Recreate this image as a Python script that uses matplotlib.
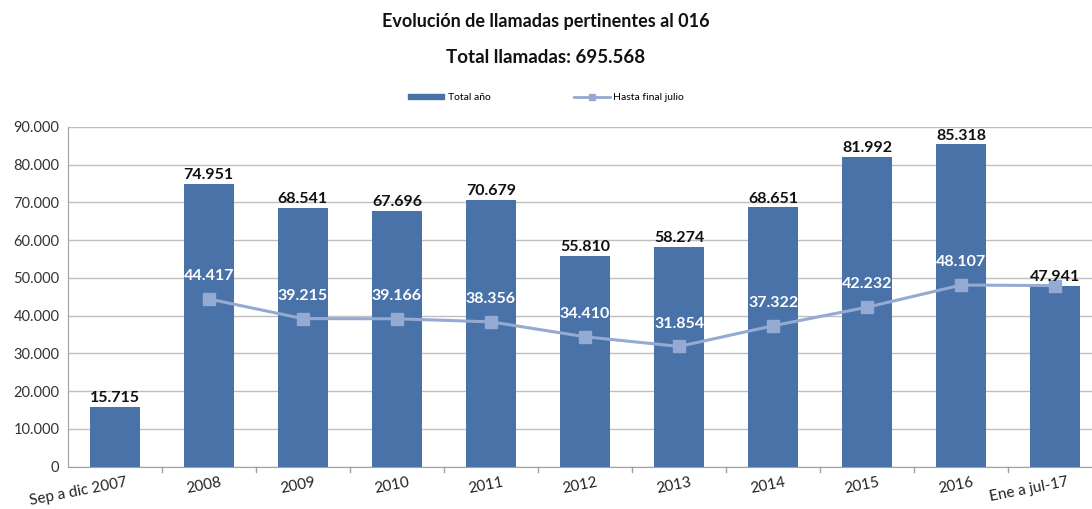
import matplotlib.pyplot as plt
import matplotlib.transforms as mtransforms
from matplotlib.ticker import FuncFormatter
from matplotlib.lines import Line2D
from matplotlib.patches import Patch

plt.rcParams['font.family'] = ['Lato', 'DejaVu Sans']

# Data
categories = ['Sep a dic 2007', '2008', '2009', '2010', '2011', '2012',
              '2013', '2014', '2015', '2016', 'Ene a jul-17']
total_anio = [15715, 74951, 68541, 67696, 70679, 55810, 58274, 68651, 81992, 85318, 47941]
hasta_julio = [None, 44417, 39215, 39166, 38356, 34410, 31854, 37322, 42232, 48107, 47941]


def fmt_es(v):
    return f'{int(v):,}'.replace(',', '.')


bar_color = '#4872A8'
line_color = '#95AAD2'

fig = plt.figure(figsize=(10.92, 5.09), dpi=100)
ax = fig.add_axes([0.062, 0.083, 0.938, 0.668])

x = list(range(len(categories)))
ax.bar(x, total_anio, width=0.53, color=bar_color, zorder=2)

# line series (skip first category)
lx = [i for i, v in zip(x, hasta_julio) if v is not None]
ly = [v for v in hasta_julio if v is not None]
ax.plot(lx, ly, color=line_color, lw=2.2, marker='s', ms=9, zorder=3)

# bar labels
for i, v in zip(x, total_anio):
    ax.text(i, v + 500, fmt_es(v), ha='center', va='bottom', fontsize=11.5,
            fontweight='bold', color='#111111', zorder=4)

# line labels (the last point shares the bar label)
for i, v in zip(lx[:-1], ly[:-1]):
    ax.text(i, v + 4200, fmt_es(v), ha='center', va='bottom', fontsize=11.5,
            fontweight='bold', color='white', zorder=4)

ax.set_ylim(0, 90000)
ax.set_xlim(-0.5, len(categories) - 0.61)
ax.set_yticks(range(0, 90001, 10000))
ax.yaxis.set_major_formatter(FuncFormatter(lambda v, p: fmt_es(v)))
ax.tick_params(axis='y', length=0, labelsize=10.5, colors='#333333', pad=6)
ax.yaxis.grid(True, color='#BFBFBF', lw=1, zorder=0)
ax.set_axisbelow(True)

ax.set_xticks(x)
ax.set_xticklabels(categories, rotation=11, ha='right', fontsize=11, color='#222222')
ax.tick_params(axis='x', length=0, pad=6)
shift = mtransforms.ScaledTranslation(10 / 72, 0, fig.dpi_scale_trans)
for lbl in ax.get_xticklabels():
    lbl.set_transform(lbl.get_transform() + shift)

# separators between categories
for b in [i - 0.5 for i in x[1:]]:
    ax.plot([b, b], [0, -1500], color='#A0A0A0', lw=1, clip_on=False)

for s in ['top', 'right']:
    ax.spines[s].set_visible(False)
ax.spines['left'].set_color('#A0A0A0')
ax.spines['bottom'].set_color('#A0A0A0')

fig.text(0.5, 0.957, 'Evolución de llamadas pertinentes al 016', ha='center', va='center',
         fontsize=13, fontweight='bold', color='#111111')
fig.text(0.5, 0.888, 'Total llamadas: 695.568', ha='center', va='center',
         fontsize=13.5, fontweight='bold', color='#111111')

handles = [Patch(color=bar_color),
           Line2D([0], [0], color=line_color, lw=2, marker='s', ms=5)]
fig.legend(handles, ['Total año', 'Hasta final julio'], loc='center',
           bbox_to_anchor=(0.5, 0.808), ncol=2, frameon=False, fontsize=7.5,
           handlelength=3.5, handleheight=0.5, columnspacing=8, handletextpad=0.3)

plt.savefig('out.png')
